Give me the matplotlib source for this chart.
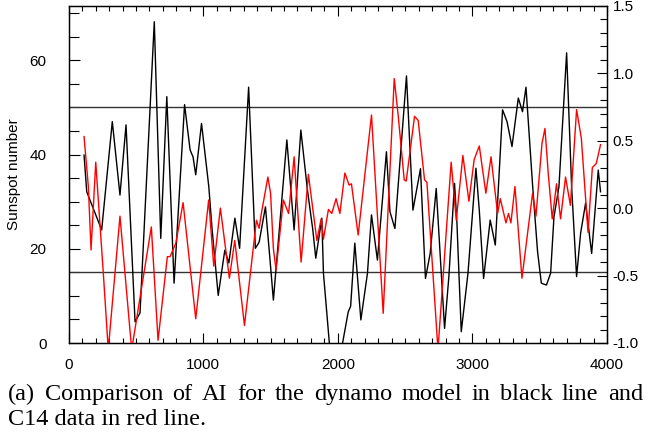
import matplotlib
matplotlib.use("Agg")
import matplotlib.pyplot as plt
from matplotlib.ticker import MultipleLocator

# dynamo model (black, left axis): year, sunspot number
model_x = [114, 134, 245, 324, 381, 426, 493, 530, 636, 684, 729, 783, 861, 902, 924,
           944, 987, 1041, 1066, 1111, 1160, 1190, 1235, 1270, 1337, 1387, 1415, 1462,
           1494, 1521, 1621, 1675, 1725, 1774, 1814, 1836, 1881, 1893, 1938, 1980, 2032,
           2077, 2095, 2126, 2171, 2220, 2250, 2294, 2361, 2387, 2424, 2510, 2558, 2614,
           2651, 2686, 2731, 2793, 2825, 2867, 2885, 2917, 2967, 3026, 3051, 3083, 3132,
           3170, 3224, 3257, 3294, 3341, 3372, 3398, 3447, 3484, 3512, 3550, 3581, 3606,
           3643, 3700, 3737, 3774, 3804, 3841, 3886, 3935, 3952]
model_y = [39.9, 32.1, 24.0, 47.0, 31.4, 46.3, 4.5, 6.4, 68.2, 22.2, 52.3, 12.7, 50.6,
           41.0, 39.5, 35.7, 46.6, 33.2, 24.0, 10.1, 19.7, 17.0, 26.5, 20.1, 54.3, 20.1,
           21.4, 28.9, 18.3, 9.1, 43.1, 24.0, 45.2, 32.5, 24.0, 18.0, 26.5, 14.8, -0.4,
           -3.0, -0.5, 6.6, 7.8, 21.2, 4.9, 14.8, 27.2, 17.6, 40.6, 27.9, 24.3, 56.7, 28.2,
           37.0, 13.7, 19.0, 32.8, 3.1, 14.1, 33.9, 25.4, 2.4, 14.8, 37.1, 28.2, 13.7, 26.1,
           20.8, 49.5, 47.0, 41.7, 52.0, 49.1, 54.3, 33.5, 19.4, 12.7, 12.3, 14.8, 26.8,
           33.2, 61.6, 33.2, 14.1, 23.3, 29.7, 19.0, 36.7, 32.1]

# C14 data (red, right axis)
c14_x = [114, 146, 166, 201, 257, 294, 381, 468, 614, 664, 733, 753, 796, 850, 944,
         1040, 1078, 1127, 1194, 1234, 1306, 1395, 1415, 1430, 1480, 1500, 1521, 1541,
         1595, 1634, 1675, 1727, 1781, 1844, 1876, 1893, 1930, 1955, 1987, 2002, 2015,
         2052, 2084, 2101, 2151, 2250, 2337, 2419, 2449, 2493, 2508, 2570, 2597, 2644,
         2662, 2744, 2842, 2880, 2929, 2974, 3013, 3051, 3100, 3138, 3187, 3207, 3249,
         3268, 3286, 3316, 3368, 3447, 3472, 3517, 3539, 3564, 3593, 3625, 3655, 3692,
         3728, 3774, 3809, 3859, 3891, 3920, 3952]
c14_y = [0.53, 0.16, -0.31, 0.34, -0.48, -1.05, -0.06, -1.05, -0.14, -0.98, -0.36, -0.36,
         -0.26, 0.04, -0.82, 0.06, -0.43, 0.00, -0.52, -0.24, -0.87, -0.09, -0.15, -0.05,
         0.23, 0.11, -0.30, -0.46, 0.06, -0.04, 0.38, -0.40, 0.25, -0.24, -0.08, -0.23,
         -0.01, -0.04, 0.07, 0.01, -0.04, 0.26, 0.17, 0.18, -0.20, 0.69, -0.78, 0.96, 0.68,
         0.21, 0.20, 0.68, 0.65, 0.21, 0.19, -1.05, 0.34, -0.09, 0.39, 0.05, 0.36, 0.46,
         0.11, 0.38, -0.04, 0.07, -0.11, -0.04, -0.11, 0.16, -0.52, 0.11, -0.06, 0.48, 0.59,
         0.25, -0.08, 0.18, -0.08, 0.23, 0.02, 0.73, 0.52, -0.18, 0.30, 0.33, 0.47]

ref_levels = [50, 15]

caption1 = "(a) Comparison of AI for the dynamo model in black line and"
caption2 = "C14 data in red line."

plt.rcParams['font.family'] = ['Liberation Sans', 'DejaVu Sans']
fig = plt.figure(figsize=(6.5, 4.36), dpi=100)
ax = fig.add_axes([68.7 / 650, 1 - 343 / 436, (607 - 68.7) / 650, (343 - 5.7) / 436])

ax.plot(model_x, model_y, color='black', lw=1.0, zorder=3)
for lv in ref_levels:
    ax.axhline(lv, color='#333333', lw=1.0, zorder=2)
ax.set_xlim(0, 4000)
ax.set_ylim(0, 71.6)
ax.set_ylabel("Sunspot number", fontsize=11, labelpad=6)

ax.xaxis.set_major_locator(MultipleLocator(1000))
ax.xaxis.set_minor_locator(MultipleLocator(100))
ax.yaxis.set_major_locator(MultipleLocator(20))
ax.yaxis.set_minor_locator(MultipleLocator(5))
ax.tick_params(axis='x', which='both', direction='in', top=True, labelsize=11, pad=11)
ax.tick_params(axis='x', which='major', length=7, width=0.8)
ax.tick_params(axis='x', which='minor', length=3.5, width=0.8)
ax.tick_params(axis='y', which='both', direction='in', right=False, labelsize=11, pad=16)
ax.tick_params(axis='y', which='major', length=8, width=0.8)
ax.tick_params(axis='y', which='minor', length=7, width=0.8)

ax2 = ax.twinx()
ax2.plot(c14_x, c14_y, color='red', lw=1.0, zorder=3)
ax2.set_ylim(-1.0, 1.5)
ax2.yaxis.set_major_locator(MultipleLocator(0.5))
ax2.yaxis.set_minor_locator(MultipleLocator(0.1))
ax2.yaxis.set_major_formatter(matplotlib.ticker.FormatStrFormatter('%.1f'))
ax2.tick_params(axis='y', which='both', direction='in', labelsize=11, pad=4)
ax2.tick_params(axis='y', which='major', length=7, width=0.8)
ax2.tick_params(axis='y', which='minor', length=5, width=0.8)

for a in (ax, ax2):
    for s in a.spines.values():
        s.set_linewidth(0.9)

# justified caption, first line spread across the full width
renderer = fig.canvas.get_renderer()
words = caption1.split(" ")
left_px, right_px = 8, 643
cap_size = 17.5
items = [fig.text(0, 1 - 400 / 436, w, fontsize=cap_size, family='Liberation Serif',
                  va='baseline') for w in words]
widths = [t.get_window_extent(renderer).width for t in items]
gap = (right_px - left_px - sum(widths)) / (len(words) - 1)
pos = left_px
for t, w in zip(items, widths):
    t.set_x(pos / 650)
    pos += w + gap
fig.text(left_px / 650, 1 - 425 / 436, caption2, fontsize=cap_size, family='Liberation Serif',
         va='baseline')

fig.savefig("out.png", dpi=100)
